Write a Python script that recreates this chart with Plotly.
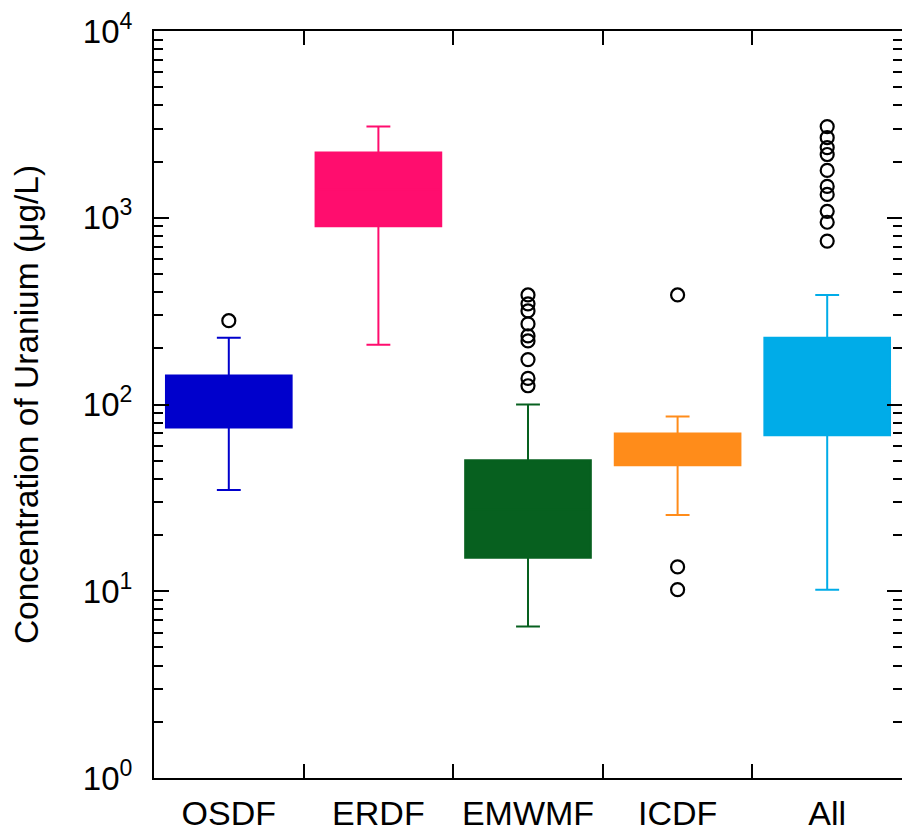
import plotly.graph_objects as go

categories = ["OSDF", "ERDF", "EMWMF", "ICDF", "All"]
q1 = [75.4, 901, 15.1, 47.3, 68.4]
q3 = [143, 2236, 50.3, 70, 228]
median = [104, 1420, 27.5, 57.5, 125]
lower_whisker = [34.8, 209, 6.47, 25.6, 10.2]
upper_whisker = [228, 3076, 100, 86.3, 386]
colors = ["#0000CC", "#FF0D6E", "#07601F", "#FF8C1A", "#00ACE8"]

outliers = {
    "OSDF": [281],
    "ERDF": [],
    "EMWMF": [386, 346, 317, 270, 233, 219, 174, 138, 126],
    "ICDF": [386, 13.5, 10.2],
    "All": [3076, 2685, 2375, 2181, 1792, 1472, 1334, 1083, 946, 750],
}

tick_vals = [1, 10, 100, 1000, 10000]
tick_text = ["10<sup>0</sup>", "10<sup>1</sup>", "10<sup>2</sup>", "10<sup>3</sup>", "10<sup>4</sup>"]

FONT = "Liberation Sans, Arial, sans-serif"

fig = go.Figure()
for i, cat in enumerate(categories):
    fig.add_trace(go.Box(
        x=[cat], q1=[q1[i]], median=[median[i]], q3=[q3[i]],
        lowerfence=[lower_whisker[i]], upperfence=[upper_whisker[i]],
        fillcolor=colors[i], line=dict(color=colors[i], width=2),
        width=0.84, whiskerwidth=0.19, boxpoints=False, showlegend=False,
        hoverinfo="skip",
    ))

ox, oy = [], []
for cat in categories:
    for v in outliers[cat]:
        ox.append(cat)
        oy.append(v)
fig.add_trace(go.Scatter(
    x=ox, y=oy, mode="markers", showlegend=False,
    marker=dict(symbol="circle-open", size=13, color="black", line=dict(width=2.2, color="black")),
))

fig.update_layout(
    width=902, height=832,
    margin=dict(l=154, r=0, t=31, b=51),
    plot_bgcolor="white", paper_bgcolor="white",
    font=dict(family=FONT, size=32, color="black"),
    boxmode="overlay",
)
fig.update_xaxes(
    type="category", categoryorder="array", categoryarray=categories,
    range=[-0.5, 4.5], tickson="boundaries",
    ticks="inside", ticklen=14, tickwidth=2, tickcolor="black",
    showline=True, linecolor="black", linewidth=2, mirror="ticks",
    showgrid=False, zeroline=False, ticklabelstandoff=4,
    tickfont=dict(size=34, family=FONT),
)
fig.update_yaxes(
    type="log", range=[0, 4],
    tickvals=tick_vals, ticktext=tick_text,
    ticks="inside", ticklen=15, tickwidth=2, tickcolor="black",
    minor=dict(ticks="inside", ticklen=9, tickwidth=2, tickcolor="black", dtick="D1", showgrid=False),
    showline=True, linecolor="black", linewidth=2, mirror="ticks",
    showgrid=False, zeroline=False, ticklabelstandoff=13,
    tickfont=dict(size=33, family=FONT),
    title=dict(text="Concentration of Uranium (μg/L)", font=dict(size=33.5, family=FONT), standoff=34),
    automargin=False,
)

fig.write_html(
    "out.html",
    config={"displayModeBar": False},
    post_script="document.body.style.margin='0';document.body.style.overflow='hidden';",
)
